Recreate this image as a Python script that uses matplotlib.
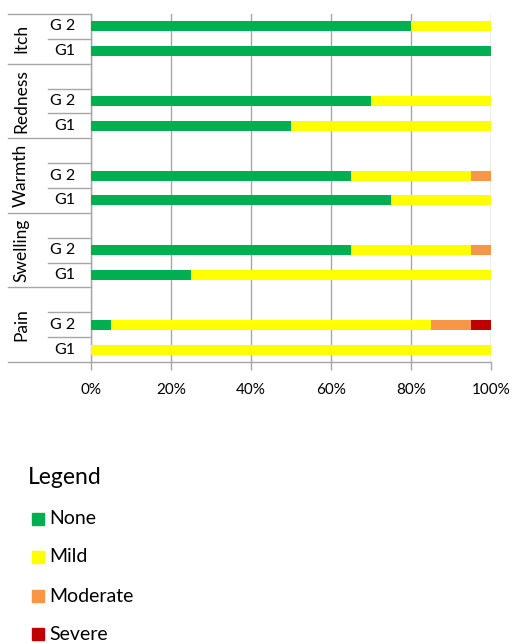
import matplotlib
matplotlib.use("Agg")
import matplotlib.pyplot as plt
from matplotlib.patches import Rectangle
import numpy as np

plt.rcParams['font.family'] = ['Lato', 'DejaVu Sans']

categories = ["Itch", "Redness", "Warmth", "Swelling", "Pain"]
groups = ["G 2", "G1"]
levels = ["None", "Mild", "Moderate", "Severe"]
colors = ["#00b050", "#ffff00", "#f79646", "#c00000"]

# percentages per category: [G 2 values, G1 values], each [None, Mild, Moderate, Severe]
itch = [[80, 20, 0, 0], [100, 0, 0, 0]]
redness = [[70, 30, 0, 0], [50, 50, 0, 0]]
warmth = [[65, 30, 5, 0], [75, 25, 0, 0]]
swelling = [[65, 30, 5, 0], [25, 75, 0, 0]]
pain = [[5, 80, 10, 5], [0, 100, 0, 0]]
values = [itch, redness, warmth, swelling, pain]
xticks = [0, 20, 40, 60, 80, 100]
xticklabels = ["0%", "20%", "40%", "60%", "80%", "100%"]

W, H = 512, 643
fig = plt.figure(figsize=(W / 100, H / 100), dpi=100)
ax_left, ax_right, ax_top, ax_bot = 91, 491, 14, 362
ax = fig.add_axes([ax_left / W, 1 - ax_bot / H, (ax_right - ax_left) / W, (ax_bot - ax_top) / H])

n = len(categories)
nslots = 3 * n - 1
grid_c = "#a6a6a6"

# slot positions: bottom category has G1 at 0, G2 at 1, blank at 2, ...
ypos = {}
for i, cat in enumerate(categories):
    k = n - 1 - i  # index from bottom
    ypos[(cat, "G1")] = 3 * k
    ypos[(cat, "G 2")] = 3 * k + 1

for i, cat in enumerate(categories):
    for gi, g in enumerate(groups):
        y = ypos[(cat, g)]
        vals = values[i][gi]
        left = 0
        for li, v in enumerate(vals):
            if v > 0:
                ax.barh(y, v, left=left, height=0.4, color=colors[li], edgecolor='none', zorder=3)
            left += v

ax.set_xlim(0, 100)
ax.set_ylim(-0.5, nslots - 0.5)
ax.set_xticks(xticks)
ax.set_xticklabels(xticklabels, fontsize=11, color="#000000")
ax.tick_params(axis='x', length=6, width=1, color=grid_c, pad=9)
ax.set_yticks([])
ax.grid(axis='x', color=grid_c, linewidth=1, zorder=0)
for s in ["top", "right"]:
    ax.spines[s].set_visible(False)
for s in ["left", "bottom"]:
    ax.spines[s].set_color(grid_c)
    ax.spines[s].set_linewidth(1)

# category label area lines
trans = ax.get_yaxis_transform()
full_x = (8 - ax_left) / (ax_right - ax_left)
short_x = (48 - ax_left) / (ax_right - ax_left)
ax.plot([full_x, 0], [nslots - 0.5, nslots - 0.5], transform=trans, color=grid_c, lw=1, clip_on=False)
for i, cat in enumerate(categories):
    k = n - 1 - i
    base = 3 * k
    ax.plot([full_x, 0], [base - 0.5, base - 0.5], transform=trans, color=grid_c, lw=1, clip_on=False)
    ax.plot([short_x, 0], [base + 0.5, base + 0.5], transform=trans, color=grid_c, lw=1, clip_on=False)
    if k != n - 1:
        ax.plot([short_x, 0], [base + 1.5, base + 1.5], transform=trans, color=grid_c, lw=1, clip_on=False)
    # group labels
    for g in groups:
        ax.text(-0.04, ypos[(cat, g)], g, transform=trans, ha='right', va='center', fontsize=11.5)
    top = base + 1.5 if k == n - 1 else base + 2.5
    ax.text((21 - ax_left) / (ax_right - ax_left), (base - 0.5 + top) / 2, cat, transform=trans,
            rotation=90, ha='center', va='center', fontsize=12.5)

# legend
fig.text(28 / W, 1 - 478 / H, "Legend", fontsize=16.5, ha='left', va='center')
leg_y = [519, 557, 596, 634]
for lvl, c, yy in zip(levels, colors, leg_y):
    fig.patches.append(Rectangle((32 / W, 1 - (yy + 6) / H), 12 / W, 12 / H,
                                 transform=fig.transFigure, color=c, figure=fig))
    fig.text(49 / W, 1 - yy / H, lvl, fontsize=14, ha='left', va='center')

fig.savefig("out.png", dpi=100)
